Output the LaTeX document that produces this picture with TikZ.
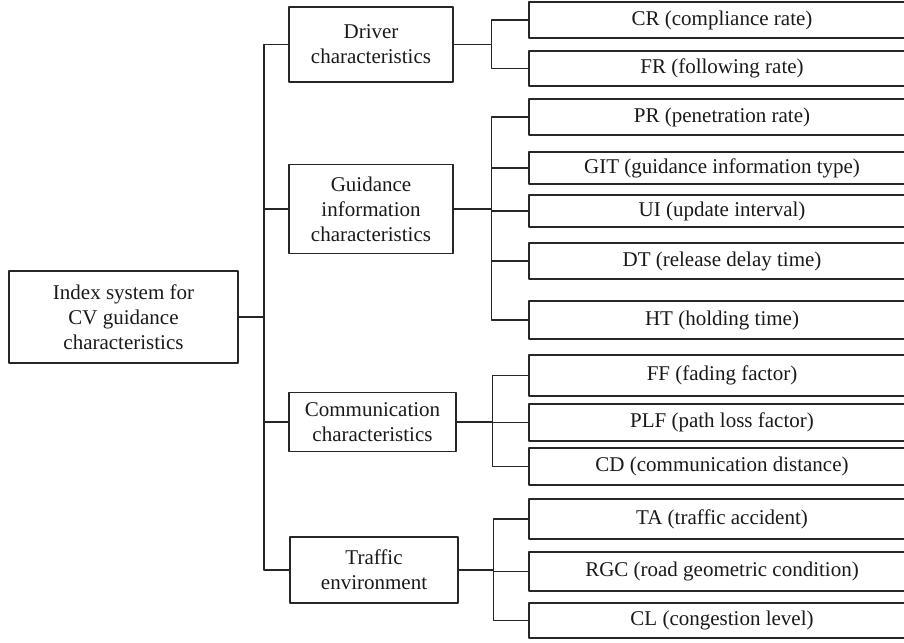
\documentclass[tikz,border=0pt]{standalone}
\usepackage{fontspec}
\setmainfont{Liberation Serif}
\begin{document}
\begin{tikzpicture}[x=1pt,y=-1pt,line join=round,line width=1.1pt,draw=black!85,
		catbox/.style={draw=black!85,line width=1.1pt,align=center,inner sep=0pt,text=black!90,font=\fontsize{21}{25}\selectfont},
		leafbox/.style={catbox,minimum width=386pt}]
		\useasboundingbox (0,0) rectangle (904,642);
		\node[catbox,minimum width=229pt,minimum height=92pt] (root) at (123.5,317) {Index system for\\CV guidance\\characteristics};
		\node[catbox,minimum width=164pt,minimum height=75pt] (drv) at (371,44.5) {Driver\\characteristics};
		\node[catbox,minimum width=164pt,minimum height=89pt] (gui) at (371,209) {Guidance\\information\\characteristics};
		\node[catbox,minimum width=167pt,minimum height=59pt] (com) at (372.5,422) {Communication\\characteristics};
		\node[catbox,minimum width=168pt,minimum height=66pt] (trf) at (374,570) {Traffic\\environment};
		\node[leafbox,minimum height=36pt] (cr) at (722,20) {CR (compliance rate)};
		\node[leafbox,minimum height=35pt] (fr) at (722,68.5) {FR (following rate)};
		\node[leafbox,minimum height=36pt] (pr) at (722,117) {PR (penetration rate)};
		\node[leafbox,minimum height=32pt] (git) at (722,168) {GIT (guidance information type)};
		\node[leafbox,minimum height=32pt] (ui) at (722,211) {UI (update interval)};
		\node[leafbox,minimum height=36pt] (dt) at (722,261) {DT (release delay time)};
		\node[leafbox,minimum height=38pt] (ht) at (722,320) {HT (holding time)};
		\node[leafbox,minimum height=41pt] (ff) at (722,375.5) {FF (fading factor)};
		\node[leafbox,minimum height=37pt] (plf) at (722,422.5) {PLF (path loss factor)};
		\node[leafbox,minimum height=37pt] (cd) at (722,466.5) {CD (communication distance)};
		\node[leafbox,minimum height=40pt] (ta) at (722,519) {TA (traffic accident)};
		\node[leafbox,minimum height=39pt] (rgc) at (722,571.5) {RGC (road geometric condition)};
		\node[leafbox,minimum height=35pt] (cl) at (722,620.5) {CL (congestion level)};
		\draw (root.east) -- (264,317) coordinate (trunk);
		\foreach \n in {drv,gui,com,trf} \draw (trunk) |- (\n.west);
		\draw (drv.east) -- ++(38,0) coordinate (fdrv);
		\foreach \n in {cr,fr} \draw (fdrv) |- (\n.west);
		\draw (gui.east) -- ++(38,0) coordinate (fgui);
		\foreach \n in {pr,git,ui,dt,ht} \draw (fgui) |- (\n.west);
		\draw (com.east) -- ++(36,0) coordinate (fcom);
		\foreach \n in {ff,plf,cd} \draw (fcom) |- (\n.west);
		\draw (trf.east) -- ++(35,0) coordinate (ftrf);
		\foreach \n in {ta,rgc,cl} \draw (ftrf) |- (\n.west);
\end{tikzpicture}
\end{document}
